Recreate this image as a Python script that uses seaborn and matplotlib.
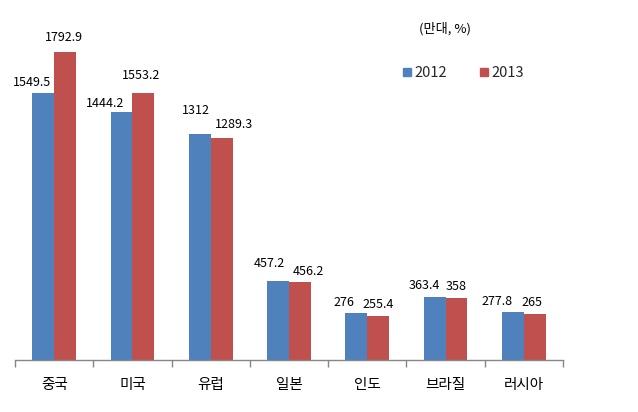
import matplotlib
matplotlib.use("Agg")
import matplotlib.pyplot as plt
import seaborn as sns
import pandas as pd
from matplotlib.lines import Line2D

categories = ["중국", "미국", "유럽", "일본", "인도", "브라질", "러시아"]
years = ["2012", "2013"]
values_2012 = [1549.5, 1444.2, 1312, 457.2, 276, 363.4, 277.8]
values_2013 = [1792.9, 1553.2, 1289.3, 456.2, 255.4, 358, 265]
unit_label = "(만대, %)"

colors = {"2012": "#4F81BD", "2013": "#C0504D"}

sns.set_theme(style="white")
plt.rcParams["font.family"] = ["Noto Sans CJK KR", "DejaVu Sans"]

df = pd.DataFrame({
    "cat": categories * 2,
    "year": [years[0]] * len(categories) + [years[1]] * len(categories),
    "val": values_2012 + values_2013,
})

fig = plt.figure(figsize=(6.38, 4.12), dpi=100)
ax = fig.add_axes([15 / 638, (412 - 360) / 412, 548 / 638, (360 - 16) / 412])

sns.barplot(data=df, x="cat", y="val", hue="year", order=categories,
            hue_order=years, palette=colors, width=0.56, ax=ax,
            legend=False, saturation=1, errorbar=None, linewidth=0)

ax.set_ylim(0, 2000)
ax.set_xlim(-0.5, len(categories) - 0.5)
ax.set_xlabel("")
ax.set_ylabel("")
ax.set_yticks([])
for s in ["left", "right", "top"]:
    ax.spines[s].set_visible(False)
ax.spines["bottom"].set_color("#868686")
ax.spines["bottom"].set_linewidth(1)

ax.set_xticks(range(len(categories)))
ax.set_xticklabels(categories, fontsize=10.5, color="#000000")
ax.tick_params(axis="x", which="major", length=0, pad=13)
ax.set_xticks([i - 0.5 for i in range(len(categories) + 1)], minor=True)
ax.tick_params(axis="x", which="minor", length=5, color="#868686", width=1,
               direction="out", bottom=True)

# label placement offsets in pixels (dx, height of label centre above bar top)
label_dx = [[-11, -16.5, -3.5, -9, -12, -10, -16],
            [-1, -2, 12, 8, 0, 0, -3]]
label_dy = [[11, 8.5, 24, 18, 10, 12, 11],
            [14, 17, 14, 10, 12, 12, 12]]
px = 72 / 100
for ci, cont in enumerate(ax.containers):
    vals = values_2012 if ci == 0 else values_2013
    for bi, (bar, v) in enumerate(zip(cont, vals)):
        ax.annotate(f"{v:g}", (bar.get_x() + bar.get_width() / 2, bar.get_height()),
                    xytext=(label_dx[ci][bi] * px, label_dy[ci][bi] * px),
                    textcoords="offset points", ha="center", va="center",
                    fontsize=9, color="#000000")

fig.text(445 / 638, 1 - 29 / 412, unit_label, ha="center", va="center",
         fontsize=9.5, color="#000000")

handles = [Line2D([0], [0], marker="s", linestyle="", markersize=6,
                  markerfacecolor=colors[y], markeredgecolor=colors[y]) for y in years]
fig.legend(handles, years, loc="center left", ncol=2,
           bbox_to_anchor=(387 / 638, 1 - 73 / 412), frameon=False,
           fontsize=10.5, handletextpad=0.0, columnspacing=2.0, handlelength=1)

fig.savefig("out.png", dpi=100)
